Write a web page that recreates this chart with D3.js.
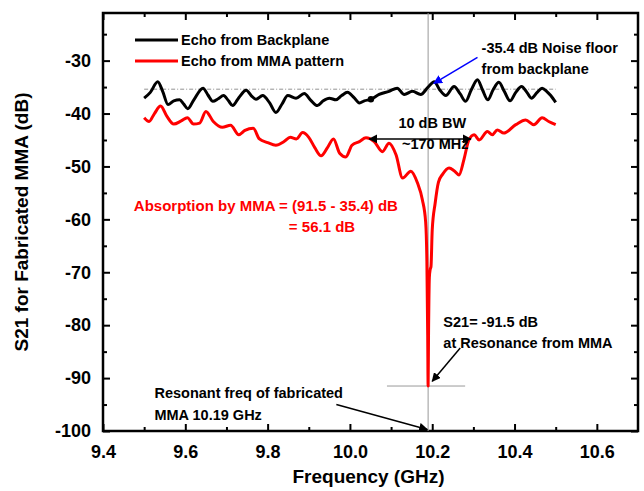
<!DOCTYPE html>
<html>
<head>
<meta charset="utf-8">
<script src="https://cdn.jsdelivr.net/npm/d3@7"></script>
<style>
	body { margin: 0; background: #fff; }
	text { font-family: "Liberation Sans", Arial, sans-serif; font-weight: bold; }
</style>
</head>
<body>
<div id="chart"></div>
<script>
	// frequency (GHz) / S21 (dB)
	var backFreq = [9.500, 9.515, 9.533, 9.545, 9.558, 9.572, 9.586, 9.596, 9.606, 9.620, 9.643, 9.655, 9.667, 9.680, 9.693, 9.705, 9.715, 9.730, 9.748, 9.760, 9.772, 9.788, 9.805, 9.820, 9.835, 9.849, 9.869, 9.889, 9.905, 9.921, 9.935, 9.950, 9.966, 9.980, 9.994, 10.010, 10.023, 10.035, 10.051, 10.071, 10.095, 10.115, 10.132, 10.152, 10.172, 10.190, 10.205, 10.218, 10.233, 10.253, 10.268, 10.281, 10.295, 10.310, 10.322, 10.335, 10.348, 10.362, 10.375, 10.389, 10.403, 10.417, 10.430, 10.441, 10.455, 10.467, 10.478, 10.488, 10.500];
	var backS21 = [-37.1, -36.0, -34.0, -35.8, -38.3, -37.6, -37.4, -38.2, -39.1, -37.5, -35.2, -36.5, -37.7, -37.2, -36.6, -37.6, -38.5, -37.0, -35.6, -36.6, -37.3, -36.6, -38.0, -39.8, -38.2, -36.6, -37.1, -36.2, -37.5, -38.5, -37.6, -37.1, -37.4, -36.6, -36.0, -37.0, -38.0, -37.6, -37.3, -36.4, -35.8, -35.2, -36.4, -35.8, -36.4, -35.0, -34.0, -35.5, -36.6, -34.9, -36.3, -37.7, -35.5, -33.6, -35.5, -37.4, -35.5, -34.1, -35.8, -37.6, -36.0, -34.9, -36.0, -37.1, -36.0, -35.2, -35.8, -36.6, -37.9];

	var mmaFreq = [9.500, 9.512, 9.525, 9.540, 9.555, 9.572, 9.590, 9.605, 9.620, 9.635, 9.650, 9.668, 9.690, 9.710, 9.730, 9.745, 9.765, 9.780, 9.800, 9.820, 9.840, 9.855, 9.870, 9.885, 9.900, 9.915, 9.930, 9.945, 9.960, 9.975, 9.990, 10.005, 10.023, 10.039, 10.059, 10.079, 10.095, 10.112, 10.128, 10.148, 10.164, 10.176, 10.184, 10.187, 10.189, 10.190, 10.191, 10.193, 10.195, 10.197, 10.200, 10.207, 10.215, 10.225, 10.241, 10.253, 10.265, 10.277, 10.289, 10.302, 10.314, 10.334, 10.346, 10.358, 10.374, 10.403, 10.427, 10.447, 10.467, 10.483, 10.500];
	var mmaS21 = [-40.8, -41.5, -40.0, -38.6, -40.5, -42.0, -41.4, -40.8, -42.0, -41.8, -39.6, -41.5, -42.6, -42.2, -44.0, -43.2, -42.8, -44.8, -45.5, -46.0, -45.3, -44.5, -44.8, -43.6, -44.5, -46.5, -48.0, -46.5, -44.8, -47.5, -48.2, -46.0, -45.3, -44.6, -45.3, -47.2, -45.6, -47.8, -52.2, -50.9, -53.1, -56.3, -60.5, -68.0, -82.0, -91.5, -82.0, -71.0, -69.5, -68.9, -62.0, -57.0, -53.0, -51.5, -50.3, -50.8, -51.6, -48.7, -45.0, -44.0, -45.0, -43.4, -44.0, -43.1, -43.7, -42.1, -41.2, -42.1, -40.8, -41.5, -42.1];

	var seriesNames = ['Echo from Backplane', 'Echo from MMA pattern'];
	var seriesColors = ['#000000', '#ff0000'];

	var xMajor = [9.4, 9.6, 9.8, 10.0, 10.2, 10.4, 10.6];
	var yMajor = [-100, -90, -80, -70, -60, -50, -40, -30];

	var noiseFloor = -35.4, minS21 = -91.5, resFreq = 10.19;

	// margins, picked to match the original frame
	var W = 644, H = 491;
	var margin = { top: 13, right: 6, bottom: 60, left: 103 },
		width = W - margin.left - margin.right,
		height = H - margin.top - margin.bottom;

	var x = d3.scaleLinear().domain([9.4, 10.7]).range([0, width]);
	var y = d3.scaleLinear().domain([-100, -21]).range([height, 0]);

	var svg = d3.select('#chart').append('svg')
		.attr('width', W)
		.attr('height', H);

	var defs = svg.append('defs');
	function marker(id, color) {
		defs.append('marker')
			.attr('id', id)
			.attr('viewBox', '0 0 10 10')
			.attr('refX', 9).attr('refY', 5)
			.attr('markerWidth', 9).attr('markerHeight', 9)
			.attr('markerUnits', 'userSpaceOnUse')
			.attr('orient', 'auto-start-reverse')
			.append('path')
			.attr('d', 'M0,0L10,5L0,10z')
			.attr('fill', color);
	}
	marker('arrBlack', '#000');
	marker('arrBlue', '#0000ff');

	var g = svg.append('g')
		.attr('transform', 'translate(' + margin.left + ',' + margin.top + ')');

	// minor ticks every 0.1 GHz / 5 dB
	var xMinor = d3.range(9.5, 10.7, 0.2).map(function (d) { return +d.toFixed(1); });
	var yMinor = d3.range(-95, -21, 10);

	// plain hyphen minus like the original, not U+2212
	var fmtY = function (d) { return String(d); };

	function tickStyle(sel) {
		sel.select('.domain').remove();
		sel.selectAll('line').attr('stroke', '#000').attr('stroke-width', 2);
	}

	// bottom axis with labels
	g.append('g')
		.attr('transform', 'translate(0,' + height + ')')
		.call(d3.axisBottom(x).tickValues(xMajor).tickSize(-7).tickPadding(11).tickFormat(d3.format('.1f')))
		.call(tickStyle)
		.selectAll('text')
		.attr('font-size', 18).attr('fill', '#000')
		.attr('dy', '0.9em');
	g.append('g')
		.attr('transform', 'translate(0,' + height + ')')
		.call(d3.axisBottom(x).tickValues(xMinor).tickSize(-4).tickFormat(''))
		.call(tickStyle);
	// top mirror
	g.append('g')
		.call(d3.axisTop(x).tickValues(xMajor).tickSize(-7).tickFormat(''))
		.call(tickStyle);
	g.append('g')
		.call(d3.axisTop(x).tickValues(xMinor).tickSize(-4).tickFormat(''))
		.call(tickStyle);

	// left axis with labels
	g.append('g')
		.call(d3.axisLeft(y).tickValues(yMajor).tickSize(-7).tickPadding(12).tickFormat(fmtY))
		.call(tickStyle)
		.selectAll('text')
		.attr('font-size', 18).attr('fill', '#000');
	g.append('g')
		.call(d3.axisLeft(y).tickValues(yMinor).tickSize(-4).tickFormat(''))
		.call(tickStyle);
	// right mirror
	g.append('g')
		.attr('transform', 'translate(' + width + ',0)')
		.call(d3.axisRight(y).tickValues(yMajor).tickSize(-7).tickFormat(''))
		.call(tickStyle);
	g.append('g')
		.attr('transform', 'translate(' + width + ',0)')
		.call(d3.axisRight(y).tickValues(yMinor).tickSize(-4).tickFormat(''))
		.call(tickStyle);

	// frame
	g.append('rect')
		.attr('width', width).attr('height', height)
		.attr('fill', 'none').attr('stroke', '#000').attr('stroke-width', 2.5);

	// axis titles
	g.append('text')
		.attr('x', width / 2 - 2).attr('y', height + 52)
		.attr('text-anchor', 'middle').attr('font-size', 19)
		.text('Frequency (GHz)');
	g.append('text')
		.attr('transform', 'translate(' + (-75) + ',' + (height / 2) + ') rotate(-90)')
		.attr('text-anchor', 'middle').attr('font-size', 19)
		.text('S21 for Fabricated MMA (dB)');

	// guide lines
	g.append('line')
		.attr('x1', x(resFreq)).attr('x2', x(resFreq))
		.attr('y1', 0).attr('y2', height)
		.attr('stroke', '#999').attr('stroke-width', 1);
	g.append('line')
		.attr('x1', x(10.09)).attr('x2', x(10.28))
		.attr('y1', y(minS21)).attr('y2', y(minS21))
		.attr('stroke', '#999').attr('stroke-width', 1);
	g.append('line')
		.attr('x1', x(9.5)).attr('x2', x(10.5))
		.attr('y1', y(noiseFloor)).attr('y2', y(noiseFloor))
		.attr('stroke', '#777').attr('stroke-width', 0.8)
		.attr('stroke-dasharray', '4,2,1,2');

	// curves
	var line = d3.line()
		.x(function (d) { return x(d[0]); })
		.y(function (d) { return y(d[1]); })
		.curve(d3.curveMonotoneX);

	var back = d3.zip(backFreq, backS21);
	var mma = d3.zip(mmaFreq, mmaS21);

	g.append('path')
		.datum(back)
		.attr('fill', 'none').attr('stroke', seriesColors[0])
		.attr('stroke-width', 3).attr('stroke-linejoin', 'round')
		.attr('d', line);
	g.append('circle')
		.attr('cx', x(10.051)).attr('cy', y(-37.3)).attr('r', 3.2)
		.attr('fill', '#000');
	g.append('path')
		.datum(mma)
		.attr('fill', 'none').attr('stroke', seriesColors[1])
		.attr('stroke-width', 3).attr('stroke-linejoin', 'round')
		.attr('d', line);

	// legend
	var legend = g.append('g').attr('transform', 'translate(32,27)');
	seriesNames.forEach(function (name, i) {
		legend.append('line')
			.attr('x1', 0).attr('x2', 43)
			.attr('y1', i * 21).attr('y2', i * 21)
			.attr('stroke', seriesColors[i]).attr('stroke-width', 3);
		legend.append('text')
			.attr('x', 46).attr('y', i * 21 + 5)
			.attr('font-size', 14.5)
			.text(name);
	});

	// annotations
	function note(lines, fx, fy, opts) {
		opts = opts || {};
		var t = g.append('text')
			.attr('x', x(fx)).attr('y', y(fy))
			.attr('font-size', opts.size || 14.5)
			.attr('fill', opts.color || '#000')
			.attr('text-anchor', opts.anchor || 'start');
		lines.forEach(function (s, i) {
			t.append('tspan')
				.attr('x', x(fx) + (opts.shift && opts.shift[i] || 0))
				.attr('dy', i === 0 ? 0 : (opts.lh || 21))
				.text(s);
		});
	}
	function arrow(f1, v1, f2, v2, color, mk, both) {
		var l = g.append('line')
			.attr('x1', x(f1)).attr('y1', y(v1))
			.attr('x2', x(f2)).attr('y2', y(v2))
			.attr('stroke', color).attr('stroke-width', 1.5)
			.attr('marker-end', 'url(#' + mk + ')');
		if (both) l.attr('marker-start', 'url(#' + mk + ')');
	}

	note(['-35.4 dB Noise floor', 'from backplane'], 10.32, -28.5);
	arrow(10.31, -29.4, 10.204, -34.3, '#0000ff', 'arrBlue');

	note(['10 dB BW', '~170 MHz'], 10.2, -42.8, { anchor: 'middle', shift: [0, 3] });
	arrow(10.047, -44.8, 10.294, -44.8, '#000', 'arrBlack', true);

	note(['Absorption by MMA = (91.5 - 35.4) dB', '= 56.1 dB'], 9.475, -58.4,
		{ color: '#ff0000', size: 15, shift: [0, 155], lh: 21 });

	note(['S21= -91.5 dB', 'at Resonance from MMA'], 10.227, -80.4);
	arrow(10.268, -84.3, 10.2, -90.6, '#000', 'arrBlack');

	note(['Resonant freq of fabricated', 'MMA 10.19 GHz'], 9.525, -93.8, { lh: 22 });
	arrow(9.967, -95.0, 10.188, -99.7, '#000', 'arrBlack');
</script>
</body>
</html>
